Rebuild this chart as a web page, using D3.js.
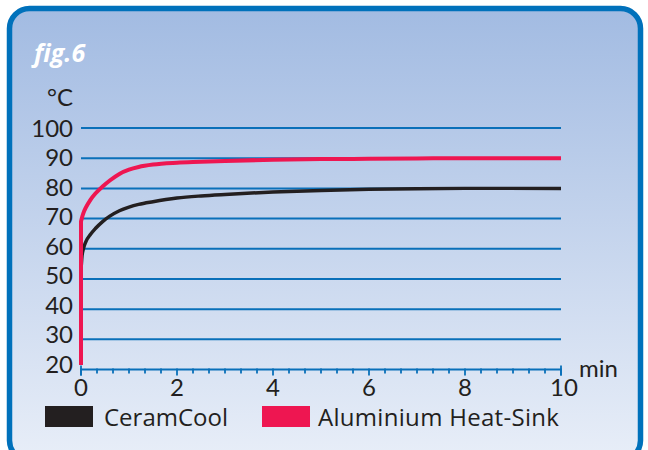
<!DOCTYPE html>
<html><head><meta charset="utf-8">
<script src="https://cdn.jsdelivr.net/npm/d3@7"></script>
<style>html,body{margin:0;padding:0;background:#fff;}svg{display:block;}text{font-family:Lato,"Open Sans",sans-serif;}.os{font-family:"Open Sans",sans-serif;}</style>
</head><body>
<script>
const yTicks = [20,30,40,50,60,70,80,90,100];
const gridValues = [30,40,50,60,70,80,90,100];
const xTicks = [0,2,4,6,8,10];
const timeMin = [0,0.02,0.05,0.1,0.2,0.3,0.45,0.6,0.8,1.0,1.2,1.5,2,2.5,3,4,5,6,7,8,10];
const ceramCool = [53,57.5,60,62.3,64.8,66.7,69,70.8,72.6,73.8,74.7,75.6,76.8,77.5,78,78.8,79.3,79.7,79.9,80,80];
const aluminium = [69,70.3,71.8,73.6,76.3,78.3,80.6,82.6,84.8,86.2,87.1,87.9,88.5,88.8,89.1,89.5,89.7,89.8,89.9,90,90];
const aluminiumStart = 21.5;
const seriesNames = ["CeramCool","Aluminium Heat-Sink"];
const seriesColors = ["#231f20","#ee1651"];

const W=648,H=450;
const svg=d3.select("body").append("svg").attr("width",W).attr("height",H);
const defs=svg.append("defs");
const g=defs.append("linearGradient").attr("id","bg").attr("x1",0).attr("y1",0).attr("x2",0).attr("y2",1);
g.append("stop").attr("offset","0%").attr("stop-color","#a2bbe2");
g.append("stop").attr("offset","100%").attr("stop-color","#e8eef8");
svg.append("rect").attr("x",9.5).attr("y",8.5).attr("width",631).attr("height",452).attr("rx",20)
  .attr("fill","url(#bg)").attr("stroke","#0071bb").attr("stroke-width",5.5);

const x=d3.scaleLinear().domain([0,10]).range([81,561]);
const y=d3.scaleLinear().domain([20,100]).range([369.5,128]);
const yLab=d3.scaleLinear().domain([20,100]).range([364,128]);

svg.append("text").attr("class","os").attr("x",34).attr("y",62).attr("fill","#fff").attr("font-size",25)
  .attr("font-weight","bold").attr("font-style","italic").style("font-variant-ligatures","none").text("fig.6");
svg.append("text").attr("x",73).attr("y",106).attr("text-anchor","end").attr("font-size",24).attr("fill","#231f20").text("°C");

svg.append("g").selectAll("line").data(gridValues).join("line")
  .attr("x1",x(0)).attr("x2",x(10)).attr("y1",d=>y(d)).attr("y2",d=>y(d))
  .attr("stroke","#0a70b9").attr("stroke-width",2);

svg.append("g").selectAll("text").data(yTicks).join("text")
  .attr("x",73).attr("y",d=>yLab(d)).attr("dy","0.36em").attr("text-anchor","end")
  .attr("font-size",24).attr("fill","#231f20").text(d=>d);

// x axis
const xa=svg.append("g").attr("transform",`translate(0,${y(20)})`);
xa.append("line").attr("x1",x(0)).attr("x2",x(10)).attr("stroke","#0a70b9").attr("stroke-width",2);
const minor=d3.range(0,31).map(i=>i/3);
xa.selectAll("line.m").data(minor).join("line").attr("class","m")
  .attr("x1",d=>x(d)).attr("x2",d=>x(d)).attr("y1",-1).attr("y2",d=>Math.abs(d%2)<1e-6||Math.abs(d%2-2)<1e-6?6:4)
  .attr("stroke","#0a70b9").attr("stroke-width",1.8);
xa.append("line").attr("x1",x(0)).attr("x2",x(0)).attr("y1",-4).attr("y2",6).attr("stroke","#0a70b9").attr("stroke-width",1.8);
xa.append("line").attr("x1",x(10)).attr("x2",x(10)).attr("y1",-4).attr("y2",6).attr("stroke","#0a70b9").attr("stroke-width",1.8);
xa.selectAll("text").data(xTicks).join("text")
  .attr("x",d=>x(d)+(d===10?3:0)).attr("y",26).attr("text-anchor","middle")
  .attr("font-size",24).attr("fill","#231f20").text(d=>d);
svg.append("text").attr("x",579).attr("y",377).attr("font-size",24).attr("fill","#231f20").text("min");

const line=d3.line().x(d=>x(d[0])).y(d=>y(d[1])).curve(d3.curveMonotoneX);
svg.append("path").attr("d",line(timeMin.map((t,i)=>[t,ceramCool[i]])))
  .attr("fill","none").attr("stroke",seriesColors[0]).attr("stroke-width",3.5);
const redPath=line(timeMin.map((t,i)=>[t,aluminium[i]]));
svg.append("path").attr("d",`M${x(0)},${y(aluminiumStart)}L`+redPath.slice(1))
  .attr("fill","none").attr("stroke",seriesColors[1]).attr("stroke-width",4).attr("stroke-linejoin","round");

// legend
const legX=[45,262], legTX=[104,318];
seriesNames.forEach((n,i)=>{
  svg.append("rect").attr("x",legX[i]).attr("y",406).attr("width",48).attr("height",21).attr("fill",seriesColors[i]);
  svg.append("text").attr("class","os").attr("x",legTX[i]).attr("y",426).attr("font-size",24)
    .attr("letter-spacing",i===1?0.3:0).attr("fill","#231f20").text(n);
});
</script>
</body></html>
